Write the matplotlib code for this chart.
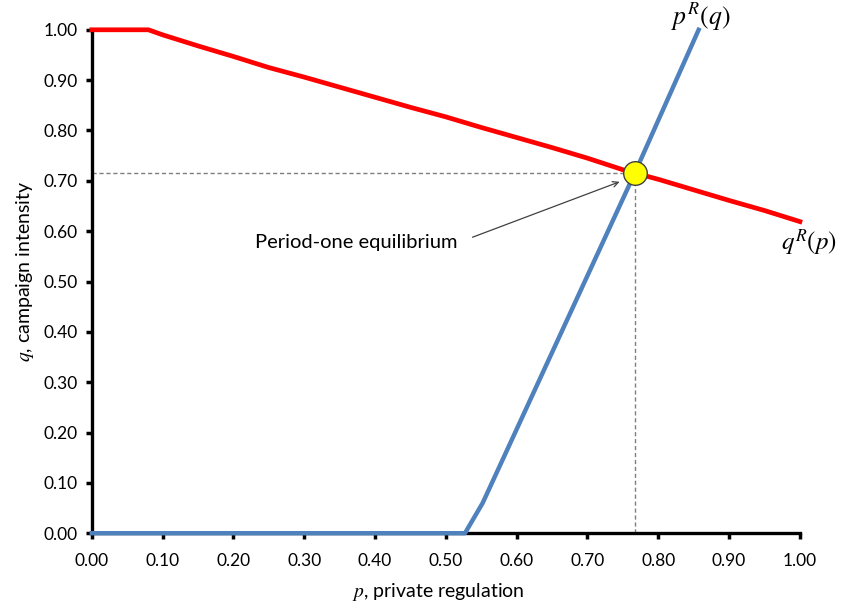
import numpy as np
import matplotlib
matplotlib.use('Agg')
import matplotlib.pyplot as plt

plt.rcParams['font.family'] = ['Lato', 'DejaVu Sans']
plt.rcParams['mathtext.fontset'] = 'stix'

# q^R(p): reaction of campaign intensity to private regulation
p_red = [0.00, 0.05, 0.08, 0.10, 0.15, 0.20, 0.25, 0.30, 0.35, 0.40, 0.45,
         0.50, 0.55, 0.60, 0.65, 0.70, 0.75, 0.80, 0.85, 0.90, 0.95, 1.00]
q_red = [1.000, 1.000, 1.000, 0.990, 0.968, 0.947, 0.925, 0.906, 0.886, 0.866, 0.846,
         0.827, 0.806, 0.786, 0.766, 0.745, 0.722, 0.703, 0.682, 0.661, 0.641, 0.619]

# p^R(q): reaction of private regulation to campaign intensity
p_blue = [0.00, 0.527, 0.552, 0.767, 0.857]
q_blue = [0.00, 0.000, 0.060, 0.716, 1.000]

eq_p, eq_q = 0.767, 0.715
ticks = [0.0, 0.1, 0.2, 0.3, 0.4, 0.5, 0.6, 0.7, 0.8, 0.9, 1.0]

fig = plt.figure(figsize=(8.42, 6.08), dpi=100)
ax = fig.add_axes([0.109, 0.123, 0.841, 0.828])

# dashed guides to the equilibrium
ax.plot([0, eq_p], [eq_q, eq_q], color='#7f7f7f', lw=1, ls=(0, (3, 2)), zorder=1)
ax.plot([eq_p, eq_p], [0, eq_q], color='#7f7f7f', lw=1, ls=(0, (3, 2)), zorder=1)

ax.plot(p_red, q_red, color='#ff0000', lw=3.4, clip_on=False, zorder=3)
ax.plot(p_blue, q_blue, color='#4f81bd', lw=3.2, clip_on=False, zorder=4)
ax.plot([eq_p], [eq_q], 'o', ms=17, mfc='#ffff00', mec='#404040', mew=1, zorder=5)

ax.set_xlim(0, 1)
ax.set_ylim(0, 1)
ax.set_xticks(ticks)
ax.set_yticks(ticks)
ax.set_xticklabels(['%.2f' % t for t in ticks])
ax.set_yticklabels(['%.2f' % t for t in ticks])
ax.tick_params(direction='out', length=4, width=2.5, labelsize=12.5)
ax.tick_params(axis='x', pad=10)
ax.tick_params(axis='y', pad=6)

for s in ['top', 'right']:
    ax.spines[s].set_visible(False)
for s in ['left', 'bottom']:
    ax.spines[s].set_linewidth(2.4)
    ax.spines[s].set_color('black')

ax.text(0.489, -0.117, r'$p$, private regulation', fontsize=14, ha='center', va='center',
        transform=ax.transAxes)
ax.text(-0.095, 0.521, r'$q$, campaign intensity', fontsize=14, ha='center', va='center',
        rotation=90, transform=ax.transAxes)

ax.text(0.860, 1.025, r'$p^{R}(q)$', fontsize=18.5, ha='center', va='center', clip_on=False)
ax.text(1.013, 0.577, r'$q^{R}(p)$', fontsize=18, ha='center', va='center', clip_on=False)

ax.text(0.230, 0.577, 'Period-one equilibrium', fontsize=14.5, ha='left', va='center')
ax.annotate('', xy=(0.749, 0.700), xytext=(0.534, 0.586),
            arrowprops=dict(arrowstyle='->', color='#404040', lw=0.9))

fig.savefig('out.png', dpi=100)
